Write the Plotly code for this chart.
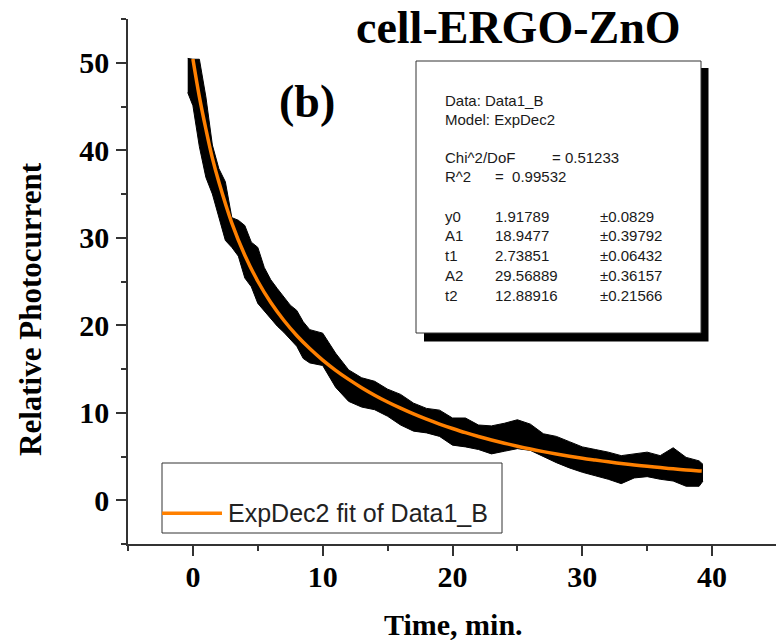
import plotly.graph_objects as go

# ---- data ----
band_time = [-0.4, 0, 0.5, 1, 1.5, 2, 2.5, 3, 3.5, 4, 4.5, 5, 5.5, 6, 6.5, 7, 7.5, 8, 8.5, 9,
             10, 11, 12, 13, 14, 15, 16, 17, 18, 19, 20, 21, 22, 23, 24, 25, 26, 27, 28, 29,
             30, 31, 32, 33, 34, 35, 36, 37, 38, 39, 39.3]
band_upper = [50.5, 50.4, 50.4, 46.1, 40.6, 37.9, 36.4, 32.3, 32.0, 31.4, 29.5, 28.9, 26.6, 25.2,
              24.2, 23.3, 22.3, 21.7, 20.4, 19.5, 19.1, 16.8, 14.9, 14.0, 13.6, 12.7, 12.1, 11.1,
              10.5, 10.3, 9.4, 9.4, 8.6, 8.5, 8.8, 9.2, 8.7, 7.6, 7.3, 6.7, 6.1, 5.8, 5.5, 5.1,
              5.3, 5.5, 5.1, 6.0, 4.9, 4.5, 4.1]
band_lower = [46.6, 45.1, 40.4, 36.9, 35.0, 32.5, 29.7, 28.9, 27.9, 25.4, 24.4, 22.5, 21.6, 20.8,
              19.9, 19.2, 18.4, 17.6, 16.2, 15.7, 15.4, 12.9, 11.3, 10.65, 10.35, 9.6, 8.6, 7.9,
              7.7, 7.3, 6.3, 6.1, 5.8, 5.3, 5.6, 5.9, 5.7, 5.0, 4.3, 3.7, 3.2, 2.8, 2.4, 1.9,
              2.55, 2.7, 2.4, 2.2, 1.6, 1.6, 2.2]

fit_time = [0, 0.5, 1, 1.5, 2, 3, 4, 5, 6, 7, 8, 9, 10, 11, 12, 13, 14, 15, 16, 17, 18, 19, 20,
            21, 22, 23, 24, 25, 26, 27, 28, 29, 30, 31, 32, 33, 34, 35, 36, 37, 38, 39, 39.2]
fit_values = [50.43, 46.1, 42.43, 39.1, 36.37, 31.68, 28.00, 25.03, 22.60, 20.57, 18.83, 17.34,
              16.02, 14.85, 13.81, 12.87, 12.01, 11.23, 10.52, 9.86, 9.26, 8.71, 8.20, 7.72,
              7.29, 6.89, 6.52, 6.17, 5.85, 5.56, 5.29, 5.04, 4.80, 4.59, 4.39, 4.20, 4.03,
              3.88, 3.73, 3.59, 3.47, 3.35, 3.33]

x_ticks = [0, 10, 20, 30, 40]
y_ticks = [0, 10, 20, 30, 40, 50]

fit_params = [("y0", "1.91789", "±0.0829"),
              ("A1", "18.9477", "±0.39792"),
              ("t1", "2.73851", "±0.06432"),
              ("A2", "29.56889", "±0.36157"),
              ("t2", "12.88916", "±0.21566")]

# ---- layout geometry (pixels of the 776x641 page) ----
W, H = 776, 641
ML, MR, MT = 128, 0, 19
MB = H - 544
PW = W - ML - MR
PH = H - MT - MB


def px(x):
    return (x - ML) / PW


def py(y):
    return (H - MB - y) / PH


ORANGE = "#FF8000"
AXC = "#333333"
SERIF = "Liberation Serif, Times New Roman, serif"
SANS = "Liberation Sans, Arial, sans-serif"

fig = go.Figure()
fig.add_trace(go.Scatter(x=band_time, y=band_upper, mode="lines",
                         line=dict(color="black", width=1), showlegend=False,
                         hoverinfo="skip", name="Data1_B upper"))
fig.add_trace(go.Scatter(x=band_time, y=band_lower, mode="lines",
                         line=dict(color="black", width=1), fill="tonexty",
                         fillcolor="black", showlegend=False, name="Data1_B"))
fig.add_trace(go.Scatter(x=fit_time, y=fit_values, mode="lines",
                         line=dict(color=ORANGE, width=3.5, shape="spline"),
                         showlegend=False, name="ExpDec2 fit of Data1_B"))

shapes = []
# info box shadow + box
shapes.append(dict(type="rect", xref="paper", yref="paper",
                   x0=px(424), x1=px(708.5), y0=py(341.5), y1=py(68),
                   fillcolor="black", line=dict(width=0), layer="above"))
shapes.append(dict(type="rect", xref="paper", yref="paper",
                   x0=px(416), x1=px(701), y0=py(333), y1=py(61),
                   fillcolor="white", line=dict(color="#333333", width=1), layer="above"))
# legend box
shapes.append(dict(type="rect", xref="paper", yref="paper",
                   x0=px(162), x1=px(502), y0=py(533), y1=py(463),
                   fillcolor="white", line=dict(color="#333333", width=1), layer="above"))
shapes.append(dict(type="line", xref="paper", yref="paper",
                   x0=px(162), x1=px(222), y0=py(513.3), y1=py(513.3),
                   line=dict(color=ORANGE, width=3.5), layer="above"))

ann = []
ann.append(dict(text="<b>cell-ERGO-ZnO</b>", x=px(518.5), y=py(28), xref="paper", yref="paper",
                showarrow=False, xanchor="center", yanchor="middle",
                font=dict(family=SERIF, size=46, color="black")))
ann.append(dict(text="<b>(b)</b>", x=px(306.5), y=py(101), xref="paper", yref="paper",
                showarrow=False, xanchor="center", yanchor="middle",
                font=dict(family=SERIF, size=46, color="black")))
ann.append(dict(text="<b>Relative Photocurrent</b>", x=px(30), y=py(309), xref="paper",
                yref="paper", showarrow=False, textangle=-90, xanchor="center",
                yanchor="middle", font=dict(family=SERIF, size=31, color="black")))
ann.append(dict(text="<b>Time, min.</b>", x=px(453.5), y=py(624), xref="paper", yref="paper",
                showarrow=False, xanchor="center", yanchor="middle",
                font=dict(family=SERIF, size=30, color="black")))
ann.append(dict(text="ExpDec2 fit of Data1_B", x=px(226), y=py(513), xref="paper",
                yref="paper", showarrow=False, xanchor="left", yanchor="middle",
                font=dict(family=SANS, size=25, color="#222222")))

BOXF = dict(family=SANS, size=15, color="#1a1a1a")


def box_text(t, xpix, ypix):
    ann.append(dict(text=t, x=px(xpix), y=py(ypix), xref="paper", yref="paper",
                    showarrow=False, xanchor="left", yanchor="middle", font=BOXF))


box_text("Data: Data1_B", 443, 100.7)
box_text("Model: ExpDec2", 443, 119)
box_text("Chi^2/DoF", 443, 157.7)
box_text("= 0.51233", 550, 157.7)
box_text("R^2", 443, 176.7)
box_text("=  0.99532", 493, 176.7)
row_y = [216, 235.7, 256, 275, 295]
for (lab, val, err), yy in zip(fit_params, row_y):
    box_text(lab, 443, yy)
    box_text(val, 493, yy)
    box_text(err, 598, yy)

axis_common = dict(showline=True, linecolor=AXC, linewidth=1.5, ticks="outside",
                   ticklen=10, tickwidth=1.5, tickcolor=AXC, showgrid=False, zeroline=False,
                   tickfont=dict(family=SERIF, size=30, color="black", weight="bold"),
                   minor=dict(dtick=5, ticks="outside", ticklen=5, tickwidth=1.5,
                              tickcolor=AXC, showgrid=False))

fig.update_layout(
    width=W, height=H,
    margin=dict(l=ML, r=MR, t=MT, b=MB),
    paper_bgcolor="white", plot_bgcolor="white",
    showlegend=False,
    hovermode=False,
    xaxis=dict(range=[-5, -5 + PW / 12.98], tickvals=x_ticks, ticklabelstandoff=-5,
               **axis_common),
    yaxis=dict(range=[-5, 55], tickvals=y_ticks, ticklabelstandoff=1, **axis_common),
    shapes=shapes,
    annotations=ann,
)

# remove the browser's default 8px body margin so the figure fills the window
fig.write_html("out.html", config={"displayModeBar": False},
               post_script="document.body.style.margin='0px';")
